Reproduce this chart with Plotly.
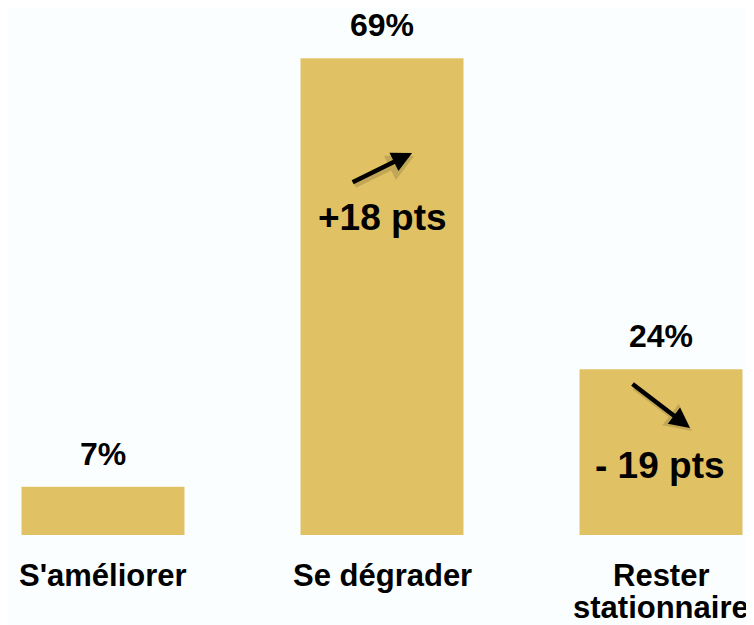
import plotly.graph_objects as go

categories = ["S'améliorer", "Se dégrader", "Rester\nstationnaire"]
values = [7, 69, 24]
changes = [None, "+18 pts", "- 19 pts"]

bar_color = "#E0C264"
font_family = "Liberation Sans, Arial, sans-serif"

fig = go.Figure(go.Bar(
    x=list(range(len(categories))),
    y=values,
    marker=dict(color=bar_color, line=dict(width=0)),
    width=0.584,
    hoverinfo="skip",
))

# value labels above the bars
for i, v in enumerate(values):
    fig.add_annotation(x=i, y=v, text=f"<b>{v}%</b>", showarrow=False,
                       yanchor="middle", yshift=33,
                       font=dict(size=32, color="black", family=font_family))

# category labels under the bars (one annotation per line for tight spacing)
for i, c in enumerate(categories):
    for j, line in enumerate(c.split("\n")):
        fig.add_annotation(x=i, y=0, yref="paper", text=f"<b>{line}</b>",
                           showarrow=False, yanchor="middle", yshift=-40 - 32 * j,
                           font=dict(size=31, color="black", family=font_family))

# evolution notes inside bars
fig.add_annotation(x=1, y=46.0, text="<b>" + changes[1] + "</b>", showarrow=False,
                   font=dict(size=37, color="black", family=font_family))
fig.add_annotation(x=1.996, y=10.1, text="<b>" + changes[2] + "</b>", showarrow=False,
                   font=dict(size=37, color="black", family=font_family))

# arrows with a soft shadow
arrows = [dict(x=1.108, y=55.3, ax=-61, ay=30), dict(x=2.104, y=15.5, ax=-59, ay=-45)]
for a in arrows:
    fig.add_annotation(**a, text="", showarrow=True, arrowhead=2, arrowsize=0.9,
                       arrowwidth=6, arrowcolor="rgba(60,50,20,0.18)",
                       xshift=2, yshift=-3)
    fig.add_annotation(**a, text="", showarrow=True, arrowhead=2, arrowsize=0.9,
                       arrowwidth=4.5, arrowcolor="black")

fig.update_xaxes(
    range=[-0.3405, 2.362], showgrid=False, zeroline=False, showline=False,
    showticklabels=False, ticks="",
)
fig.update_yaxes(range=[0, 76.27], visible=False, showgrid=False, zeroline=False)

fig.update_layout(
    width=754, height=625,
    margin=dict(l=0, r=0, t=0, b=98, autoexpand=False),
    paper_bgcolor="#FBFEFE", plot_bgcolor="#FBFEFE",
    showlegend=False,
    font=dict(family=font_family),
)

fig.write_html("out.html")
